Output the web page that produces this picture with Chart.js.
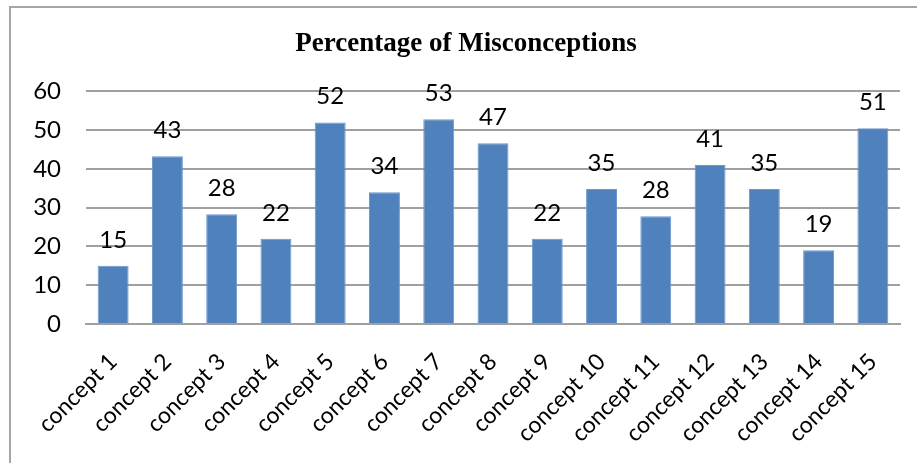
<!DOCTYPE html>
<html>
<head>
<meta charset="utf-8">
<script src="https://cdn.jsdelivr.net/npm/chart.js@4"></script>
<style>
  html, body { margin: 0; padding: 0; background: #fff; overflow: hidden; }
  #wrap { position: relative; width: 917px; height: 463px; }
  #frame {
    position: absolute; left: 9px; top: 6px; width: 960px; height: 500px;
    border-top: 2px solid #a6a6a6; border-left: 2px solid #a6a6a6;
  }
  canvas { position: absolute; left: 0; top: 0; }
</style>
</head>
<body>
<div id="wrap">
  <div id="frame"></div>
  <canvas id="c" width="917" height="463"></canvas>
</div>
<script>
const categories = [
  "concept 1", "concept 2", "concept 3", "concept 4", "concept 5",
  "concept 6", "concept 7", "concept 8", "concept 9", "concept 10",
  "concept 11", "concept 12", "concept 13", "concept 14", "concept 15"
];
// bar heights (labels are rounded)
const misconceptions = [15, 43.3, 28.3, 22, 52, 34, 52.8, 46.6, 22, 34.8, 27.8, 41, 34.8, 19, 50.5];
const yTicks = [0, 10, 20, 30, 40, 50, 60];

const labelFont = "Lato";

// data labels above each bar
const valueLabels = {
  id: "valueLabels",
  afterDatasetsDraw(chart) {
    const ctx = chart.ctx;
    const meta = chart.getDatasetMeta(0);
    ctx.save();
    ctx.font = "24px " + labelFont;
    ctx.fillStyle = "#000";
    ctx.textAlign = "center";
    ctx.textBaseline = "alphabetic";
    meta.data.forEach((bar, i) => {
      ctx.fillText(String(Math.round(misconceptions[i])), bar.x, bar.y - 18);
    });
    ctx.restore();
  }
};

new Chart(document.getElementById("c").getContext("2d"), {
  type: "bar",
  data: {
    labels: categories,
    datasets: [{
      label: "Percentage of Misconceptions",
      data: misconceptions,
      backgroundColor: "#4f81bd",
      borderColor: "#6b97cc",
      borderWidth: 1,
      barPercentage: 0.57,
      categoryPercentage: 1
    }]
  },
  options: {
    responsive: false,
    animation: false,
    // left padding nudges the title centre right; y axis width makes up the rest
    layout: { padding: { left: 32, right: 17, top: 0, bottom: 0 } },
    plugins: {
      legend: { display: false },
      tooltip: { enabled: false },
      title: {
        display: true,
        text: "Percentage of Misconceptions",
        color: "#000",
        font: { family: "Liberation Serif", size: 27, weight: "bold" },
        padding: { top: 28, bottom: 31 }
      }
    },
    scales: {
      x: {
        grid: { display: false },
        border: { display: true, color: "#a0a0a0", width: 2 },
        ticks: {
          color: "#000",
          font: { family: labelFont, size: 23 },
          minRotation: 45,
          maxRotation: 45,
          padding: 16
        },
        afterFit(scale) { scale.height = 139; }
      },
      y: {
        min: 0,
        max: 60,
        afterBuildTicks(scale) { scale.ticks = yTicks.map(v => ({ value: v })); },
        grid: { color: "#a0a0a0", lineWidth: 2, drawTicks: false },
        border: { display: false },
        ticks: {
          color: "#000",
          font: { family: labelFont, size: 24 },
          padding: 25
        },
        afterFit(scale) { scale.width = 54; }
      }
    }
  },
  plugins: [valueLabels]
});
</script>
</body>
</html>
